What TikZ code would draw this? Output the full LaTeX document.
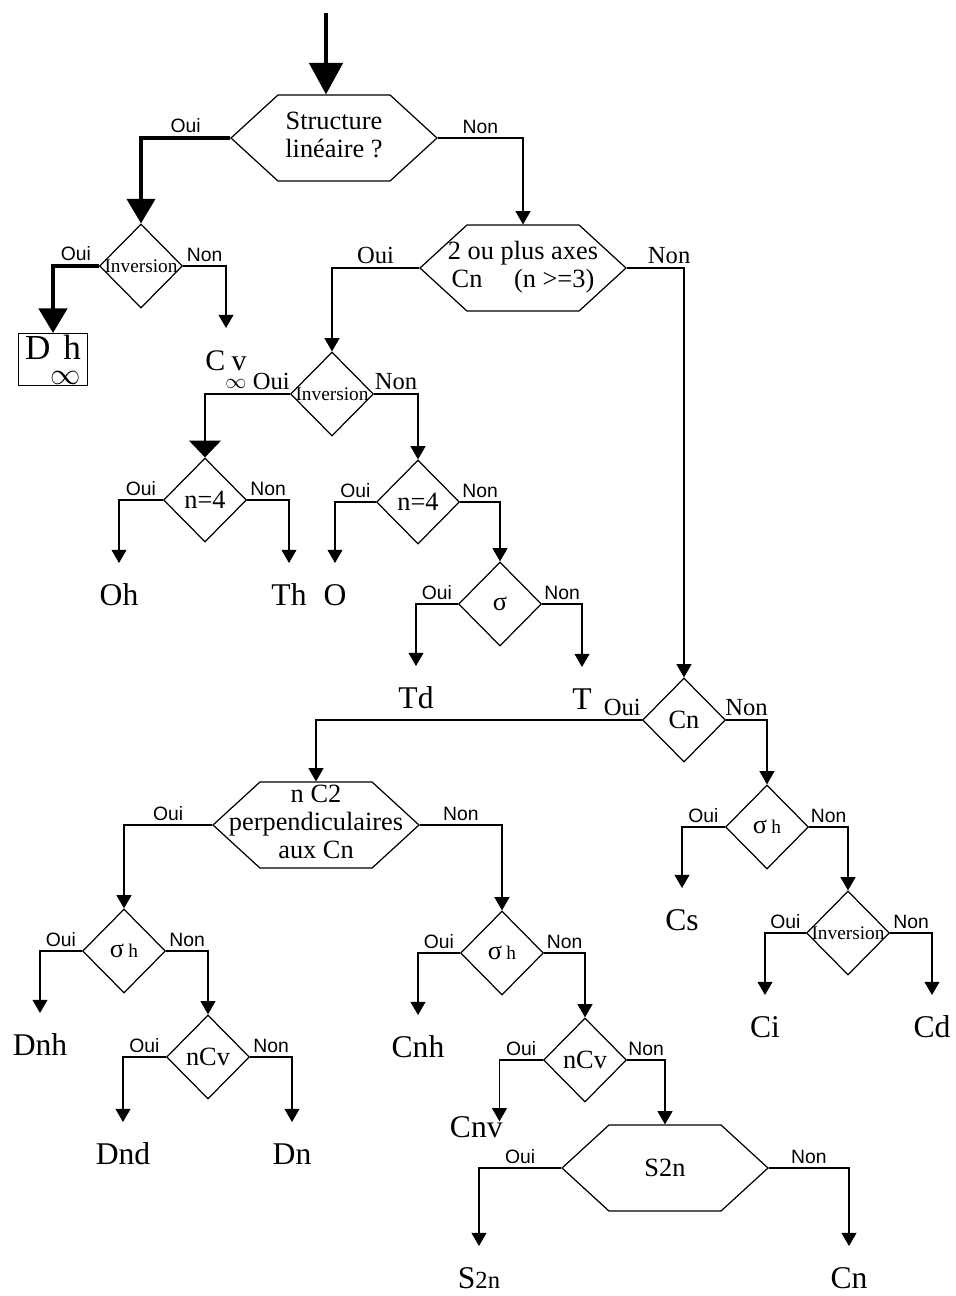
\documentclass[tikz,border=0pt]{standalone}
\usepackage{amsmath}
\usepackage{fontspec}
\setmainfont{Liberation Serif}
\newfontfamily\ouinonfont{Liberation Sans}
\usetikzlibrary{arrows.meta,shapes.geometric,shapes.symbols}

\newcommand{\zerowd}[1]{\hbox to 0pt{\hss#1\hss}}
\newcommand{\smalltxt}{\fontsize{11}{11}\selectfont}

\tikzset{
  flow/.style={line width=0.7pt,-{Triangle[width=8.5pt,length=7.5pt]}},
  bigflow/.style={line width=2.3pt,-{Triangle[width=16pt,length=14pt]}},
  wideflow/.style={line width=0.7pt,-{Triangle[width=18pt,length=9.5pt]}},
  decision/.style={diamond,draw,line width=0.7pt,inner sep=0pt,minimum width=1.66cm,minimum height=1.68cm,font=\fontsize{15}{16}\selectfont},
  question/.style={signal,signal to=west and east,signal pointer angle=85,draw,line width=0.7pt,inner sep=0pt,minimum width=4.12cm,minimum height=1.72cm,font=\fontsize{15}{16}\selectfont},
  result/.style={anchor=north,inner sep=0pt,text height=24pt,text depth=0pt,font=\fontsize{18}{18}\selectfont},
  sanslab/.style={above,inner sep=2pt,font=\ouinonfont\fontsize{11}{11}\selectfont},
  seriflab/.style={above,inner sep=2pt,font=\fontsize{14}{14}\selectfont},
}

\begin{document}
\begin{tikzpicture}[x=0.02cm,y=-0.02cm]
%width=19.12cm
%height=25.92cm
\useasboundingbox (0,0) rectangle (956,1296);
% questions
\node[question] (lin)   at (334,138)  {\zerowd{\begin{tabular}{@{}c@{}}Structure\\linéaire ?\end{tabular}}};
\node[question] (axes)  at (523,268)  {\zerowd{\begin{tabular}{@{}c@{}}2 ou plus axes\\Cn\hspace{1.2em}(n >=3)\end{tabular}}};
\node[question] (perp)  at (316,825)  {\zerowd{\begin{tabular}{@{}c@{}}n C2\\perpendiculaires\\aux Cn\end{tabular}}};
\node[question] (stwon) at (665,1168) {\zerowd{S2n}};
% decisions
\node[decision] (inva)   at (141,266)  {\zerowd{\smalltxt Inversion}};
\node[decision] (invb)   at (332,394)  {\zerowd{\smalltxt Inversion}};
\node[decision] (nfoura) at (205,500)  {\zerowd{n=4}};
\node[decision] (nfourb) at (418,502)  {\zerowd{n=4}};
\node[decision] (sig)    at (500,604)  {\zerowd{σ}};
\node[decision] (cn)     at (684,720)  {\zerowd{Cn}};
\node[decision] (sighc)  at (767,827)  {\zerowd{σ\,{\smalltxt h}}};
\node[decision] (invc)   at (848,933)  {\zerowd{\smalltxt Inversion}};
\node[decision] (sigha)  at (124,951)  {\zerowd{σ\,{\smalltxt h}}};
\node[decision] (ncva)   at (208,1057) {\zerowd{nCv}};
\node[decision] (sighb)  at (502,953)  {\zerowd{σ\,{\smalltxt h}}};
\node[decision] (ncvb)   at (585,1060) {\zerowd{nCv}};
% groups
\node[draw,line width=0.7pt,anchor=north,inner sep=0pt,minimum width=1.38cm,minimum height=1.04cm,text height=13pt,text depth=13pt,font=\fontsize{20}{20}\selectfont] (dinfh) at (53,333)
  {D\begin{tabular}[t]{@{}r@{}}h\\[-6pt]{\fontsize{16}{16}\selectfont$\infty$}\end{tabular}};
\node[result,font=\fontsize{17}{17}\selectfont] (cinfv) at (226,328)
  {C\begin{tabular}[t]{@{}r@{}}v\\[-7pt]{\fontsize{13}{13}\selectfont$\infty$}\end{tabular}};
\node[result] (oh)    at (119,563)  {Oh};
\node[result] (th)    at (289,563)  {Th};
\node[result] (o)     at (335,563)  {O};
\node[result] (td)    at (416,666)  {Td};
\node[result] (t)     at (582,667)  {T};
\node[result] (cs)    at (682,888)  {Cs};
\node[result] (ci)    at (765,995)  {Ci};
\node[result] (cd)    at (932,995)  {Cd};
\node[result] (dnh)   at (40,1013)  {Dnh};
\node[result] (dnd)   at (123,1122) {Dnd};
\node[result] (dn)    at (292,1122) {Dn};
\node[result] (cnh)   at (418,1015) {Cnh};
\node[anchor=north east,inner sep=0pt,font=\fontsize{18}{18}\selectfont] (cnv) at (503,1116) {Cnv};
\node[result] (stwonr) at (479,1246) {S{\fontsize{14}{14}\selectfont 2n}};
\node[result] (cnr)   at (849,1246) {Cn};
% connectors
\coordinate (start) at (326,13);
\draw[line width=2.3pt,-{Triangle[width=19pt,length=18pt]}] (start) -- (start |- lin.north);
\draw[bigflow] (lin.west) -| node[pos=0.25,sanslab]{Oui} (inva.north);
\draw[flow] (lin.east) -| node[pos=0.25,sanslab]{Non} (axes.north);
\draw[bigflow] (inva.west) -| node[pos=0.25,sanslab]{Oui} (dinfh.north);
\draw[flow] (inva.east) -| node[pos=0.25,sanslab]{Non} (cinfv.north);
\draw[flow] (axes.west) -| node[pos=0.25,seriflab]{Oui} (invb.north);
\draw[flow] (axes.east) -| node[pos=0.37,seriflab]{Non} (cn.north);
\draw[wideflow] (invb.west) -| node[pos=0.11,seriflab]{Oui} (nfoura.north);
\draw[flow] (invb.east) -| node[pos=0.25,seriflab]{Non} (nfourb.north);
\draw[flow] (nfoura.west) -| node[pos=0.25,sanslab]{Oui} (oh.north);
\draw[flow] (nfoura.east) -| node[pos=0.25,sanslab]{Non} (th.north);
\draw[flow] (nfourb.west) -| node[pos=0.25,sanslab]{Oui} (o.north);
\draw[flow] (nfourb.east) -| node[pos=0.25,sanslab]{Non} (sig.north);
\draw[flow] (sig.west) -| node[pos=0.25,sanslab]{Oui} (td.north);
\draw[flow] (sig.east) -| node[pos=0.25,sanslab]{Non} (t.north);
\draw[flow] (cn.west) -| node[pos=0.03,seriflab]{Oui} (perp.north);
\draw[flow] (cn.east) -| node[pos=0.25,seriflab]{Non} (sighc.north);
\draw[flow] (sighc.west) -| node[pos=0.25,sanslab]{Oui} (cs.north);
\draw[flow] (sighc.east) -| node[pos=0.25,sanslab]{Non} (invc.north);
\draw[flow] (invc.west) -| node[pos=0.25,sanslab]{Oui} (ci.north);
\draw[flow] (invc.east) -| node[pos=0.25,sanslab]{Non} (cd.north);
\draw[flow] (perp.west) -| node[pos=0.25,sanslab]{Oui} (sigha.north);
\draw[flow] (perp.east) -| node[pos=0.25,sanslab]{Non} (sighb.north);
\draw[flow] (sigha.west) -| node[pos=0.25,sanslab]{Oui} (dnh.north);
\draw[flow] (sigha.east) -| node[pos=0.25,sanslab]{Non} (ncva.north);
\draw[flow] (ncva.west) -| node[pos=0.25,sanslab]{Oui} (dnd.north);
\draw[flow] (ncva.east) -| node[pos=0.25,sanslab]{Non} (dn.north);
\draw[flow] (sighb.west) -| node[pos=0.25,sanslab]{Oui} (cnh.north);
\draw[flow] (sighb.east) -| node[pos=0.25,sanslab]{Non} (ncvb.north);
\draw[flow] (ncvb.west) -| node[pos=0.25,sanslab]{Oui} ([xshift=-2pt,yshift=-3pt]cnv.north east);
\draw[flow] (ncvb.east) -| node[pos=0.25,sanslab]{Non} (stwon.north);
\draw[flow] (stwon.west) -| node[pos=0.25,sanslab]{Oui} (stwonr.north);
\draw[flow] (stwon.east) -| node[pos=0.25,sanslab]{Non} (cnr.north);
\end{tikzpicture}
\end{document}
